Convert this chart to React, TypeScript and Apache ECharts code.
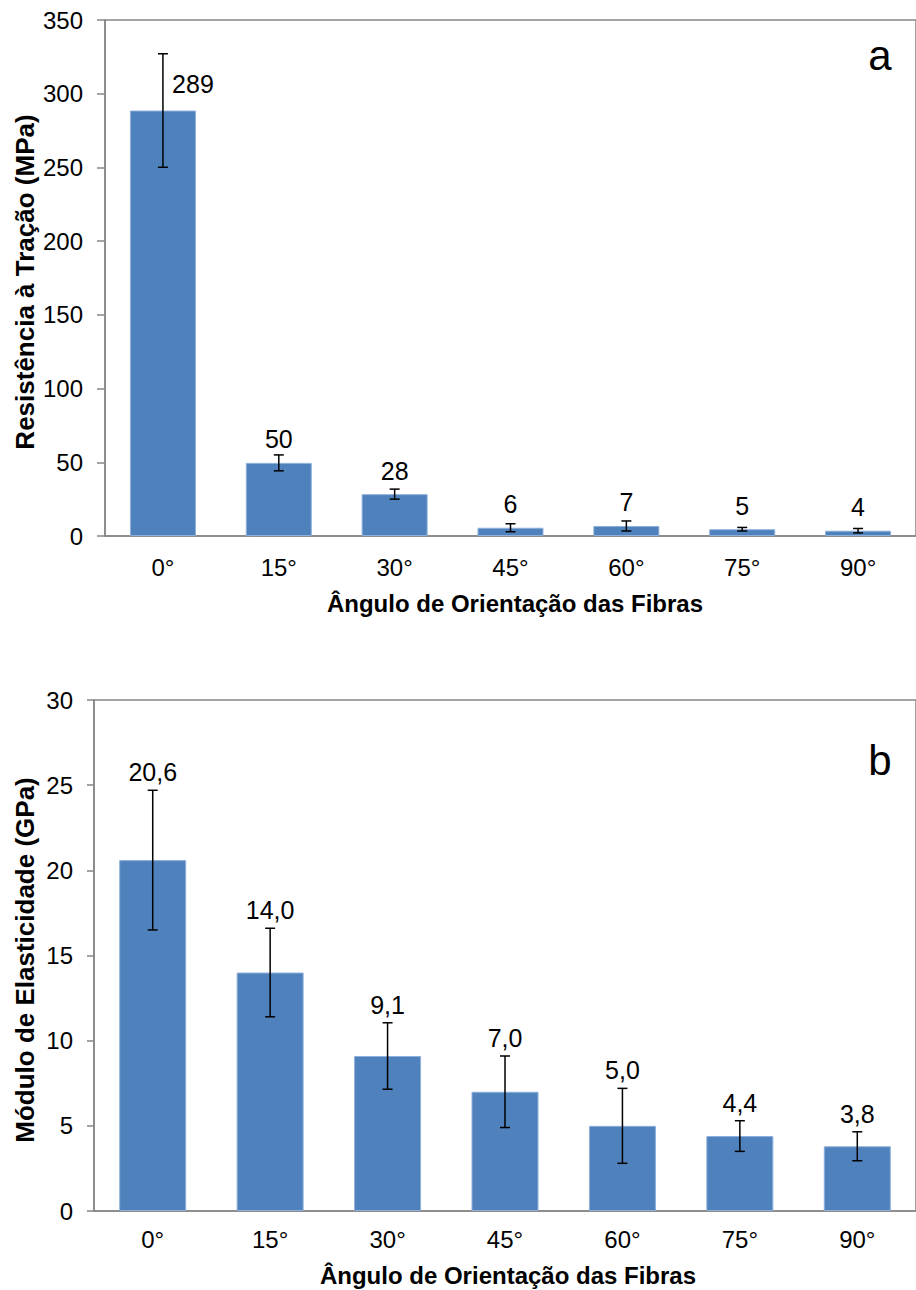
import React, { useEffect, useRef } from "react";
import * as echarts from "echarts";

const categories = ["0°", "15°", "30°", "45°", "60°", "75°", "90°"];
const tensileValues = [288.6, 49.6, 28.4, 5.6, 6.8, 4.6, 3.6];
const tensileErrors = [38.5, 5.4, 3.4, 2.7, 3.4, 1.2, 1.5];
const modulusValues = [20.6, 14.0, 9.1, 7.0, 5.0, 4.4, 3.8];
const modulusErrors = [4.1, 2.6, 1.95, 2.1, 2.2, 0.9, 0.85];

const FONT = "'Liberation Sans', Arial, sans-serif";
const AXIS = "#868686";
const BAR = "#4F81BD";

function errorSeries(values: number[], errors: number[], xAxisIndex: number, yAxisIndex: number) {
  return {
    type: "custom",
    xAxisIndex,
    yAxisIndex,
    z: 5,
    encode: { x: 0, y: [1, 2] },
    data: values.map((v, i) => [i, v - errors[i], v + errors[i]]),
    renderItem: (params: any, api: any) => {
      const i = api.value(0);
      const top = api.coord([i, api.value(2)]);
      const bot = api.coord([i, api.value(1)]);
      const x = top[0];
      const style = { stroke: "#000", lineWidth: 1.5 };
      return {
        type: "group",
        children: [
          { type: "line", shape: { x1: x, y1: top[1], x2: x, y2: bot[1] }, style },
          { type: "line", shape: { x1: x - 5, y1: top[1], x2: x + 5, y2: top[1] }, style },
          { type: "line", shape: { x1: x - 5, y1: bot[1], x2: x + 5, y2: bot[1] }, style },
        ],
      };
    },
  };
}

export default function App() {
  const ref = useRef<HTMLDivElement>(null);
  useEffect(() => {
    document.body.style.margin = "0";
    const chart = echarts.init(ref.current!, undefined, { renderer: "svg" });
    const yAxisCommon = (min: number, max: number, interval: number, tickLen: number, margin: number, gridIndex: number) => ({
      type: "value",
      gridIndex,
      min,
      max,
      interval,
      axisLine: { show: true, lineStyle: { color: AXIS, width: 1.5 } },
      axisTick: { show: true, length: tickLen, lineStyle: { color: AXIS, width: 1.5 } },
      splitLine: { show: false },
      axisLabel: { color: "#000", fontSize: 24, fontFamily: FONT, margin },
    });
    const xAxisCommon = (gridIndex: number, margin: number) => ({
      type: "category",
      gridIndex,
      data: categories,
      axisLine: { show: true, lineStyle: { color: AXIS, width: 1.5 } },
      axisTick: { show: false },
      axisLabel: { color: "#000", fontSize: 24, fontFamily: FONT, margin },
    });
    const titleStyle = (text: string, size: number) => ({
      text,
      fontSize: size,
      fontWeight: "bold",
      fontFamily: FONT,
      fill: "#000",
      align: "center",
      verticalAlign: "middle",
    });
    chart.setOption({
      animation: false,
      grid: [
        { left: 105, top: 20, width: 821, height: 516, show: true, borderColor: AXIS, borderWidth: 1.5, backgroundColor: "transparent" },
        { left: 94, top: 700, width: 828, height: 511, show: true, borderColor: AXIS, borderWidth: 1.5, backgroundColor: "transparent" },
      ],
      xAxis: [xAxisCommon(0, 19), xAxisCommon(1, 16)],
      yAxis: [yAxisCommon(0, 350, 50, 8, 22, 0), yAxisCommon(0, 30, 5, 7, 21, 1)],
      graphic: [
        { type: "text", x: 25, y: 282, rotation: Math.PI / 2, style: titleStyle("Resistência à Tração (MPa)", 26) },
        { type: "text", x: 515, y: 603, style: titleStyle("Ângulo de Orientação das Fibras", 24) },
        { type: "text", x: 25, y: 960, rotation: Math.PI / 2, style: titleStyle("Módulo de Elasticidade (GPa)", 26) },
        { type: "text", x: 508, y: 1275, style: titleStyle("Ângulo de Orientação das Fibras", 24) },
        { type: "text", x: 880, y: 55, style: { text: "a", fontSize: 42, fontFamily: FONT, fill: "#000", align: "center", verticalAlign: "middle" } },
        { type: "text", x: 880, y: 760, style: { text: "b", fontSize: 42, fontFamily: FONT, fill: "#000", align: "center", verticalAlign: "middle" } },
      ],
      series: [
        {
          type: "bar",
          xAxisIndex: 0,
          yAxisIndex: 0,
          barWidth: 66,
          itemStyle: { color: BAR, borderColor: "#8EB0DA", borderWidth: 1 },
          data: tensileValues.map((v, i) =>
            i === 0 ? { value: v, label: { offset: [30, -3] } } : v
          ),
          label: {
            show: true,
            position: "top",
            distance: 11,
            color: "#000",
            fontSize: 25,
            fontFamily: FONT,
            formatter: (p: any) => Number(p.value).toFixed(0),
          },
        },
        errorSeries(tensileValues, tensileErrors, 0, 0),
        {
          type: "bar",
          xAxisIndex: 1,
          yAxisIndex: 1,
          barWidth: 67,
          itemStyle: { color: BAR, borderColor: "#8EB0DA", borderWidth: 1 },
          data: modulusValues,
        },
        errorSeries(modulusValues, modulusErrors, 1, 1),
        {
          type: "custom",
          xAxisIndex: 1,
          yAxisIndex: 1,
          z: 6,
          encode: { x: 0, y: 1 },
          data: modulusValues.map((v, i) => [i, v + modulusErrors[i], v]),
          renderItem: (params: any, api: any) => {
            const pt = api.coord([api.value(0), api.value(1)]);
            return {
              type: "text",
              x: pt[0],
              y: pt[1] - 18,
              style: {
                text: Number(api.value(2)).toFixed(1).replace(".", ","),
                fontSize: 25,
                fontFamily: FONT,
                fill: "#000",
                align: "center",
                verticalAlign: "middle",
              },
            };
          },
        },
      ],
    });
    return () => chart.dispose();
  }, []);
  return <div ref={ref} style={{ width: 916, height: 1290 }} />;
}
